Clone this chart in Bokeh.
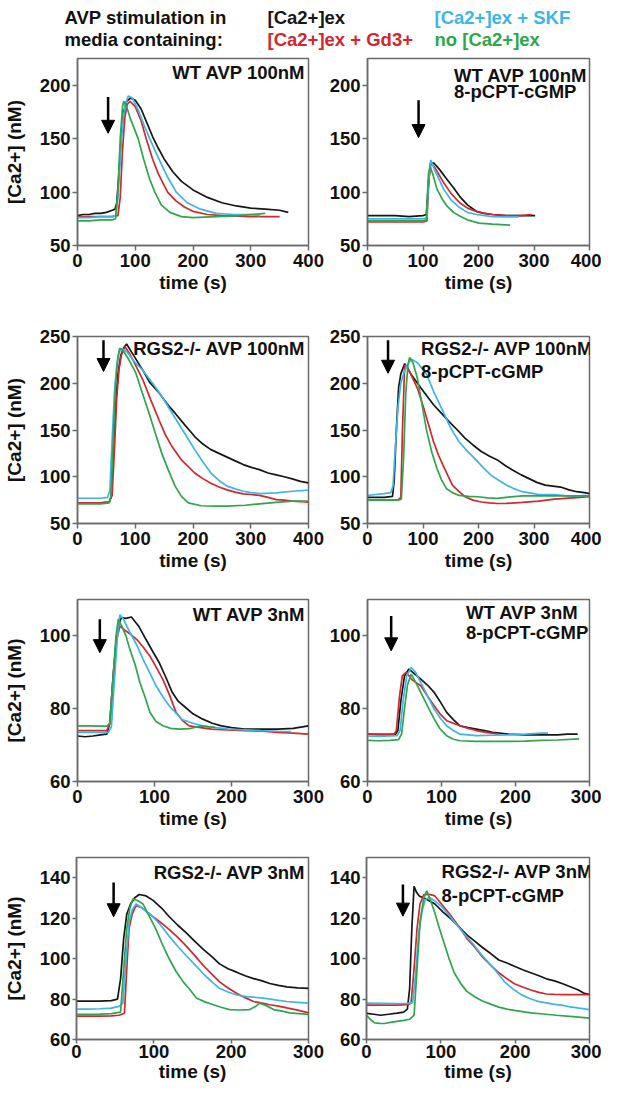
from bokeh.plotting import figure
from bokeh.models import Range1d, FixedTicker, Label, Arrow, NormalHead, ColumnDataSource
from bokeh.layouts import column, row
from bokeh.embed import file_html
from bokeh.resources import INLINE
from bokeh.core.properties import value

FONT = "Liberation Sans"

# ---------------- legend / header ----------------
legend_names = ["[Ca2+]ex", "[Ca2+]ex + SKF", "[Ca2+]ex + Gd3+", "no [Ca2+]ex"]
legend_colors = ["#161616", "#3cb6e6", "#d3262e", "#2ea64c"]
header_lines = ["AVP stimulation in", "media containing:"]

series_keys = ["ex", "gd", "skf", "no"]
series_colors = {"ex": "#161616", "gd": "#d3262e", "skf": "#3cb6e6", "no": "#2ea64c"}

# ---------------- panel 1: WT AVP 100nM ----------------
wt100_ex_t = [0, 10, 20, 30, 40, 50, 60, 65, 68, 72, 76, 80, 85, 92, 100, 110, 120, 130, 140, 150, 165, 180, 200, 225, 250, 275, 300, 325, 350, 365]
wt100_ex_v = [78, 79, 79, 80, 80, 81, 83, 84, 90, 120, 155, 175, 185, 188, 186, 178, 165, 152, 141, 131, 119, 110, 102, 95, 90, 87, 85, 84, 83, 81]
wt100_gd_t = [0, 20, 40, 60, 70, 74, 78, 82, 86, 91, 100, 110, 119, 130, 140, 156, 170, 185, 200, 225, 250, 300, 350]
wt100_gd_v = [77, 77, 77, 77, 78, 95, 140, 170, 182, 185, 180, 167, 150, 131, 117, 100, 92, 86, 82, 79, 78, 77, 77]
wt100_skf_t = [0, 20, 40, 60, 66, 70, 74, 78, 83, 88, 95, 105, 115, 125, 140, 155, 171, 190, 213, 240, 270, 300, 316]
wt100_skf_v = [76, 76, 77, 77, 78, 95, 130, 165, 182, 190, 188, 177, 163, 150, 132, 115, 100, 90, 84, 80, 79, 79, 78]
wt100_no_t = [0, 20, 40, 60, 66, 70, 74, 78, 80, 85, 92, 100, 105, 115, 125, 134, 145, 160, 180, 200, 240, 280, 325]
wt100_no_v = [73, 73, 74, 74, 75, 100, 150, 180, 185, 180, 168, 157, 150, 130, 112, 100, 88, 81, 77, 76, 77, 78, 80]

# ---------------- panel 2: WT AVP 100nM 8-pCPT-cGMP ----------------
wt100c_ex_t = [0, 25, 50, 75, 100, 106, 110, 114, 120, 130, 143, 155, 166, 180, 196, 210, 225, 250, 275, 302]
wt100c_ex_v = [78, 78, 78, 77, 78, 79, 110, 127, 127, 121, 112, 104, 96, 88, 82, 80, 79, 78, 78, 78]
wt100c_gd_t = [0, 25, 50, 75, 100, 107, 110, 113, 120, 137, 150, 166, 180, 201, 225, 250, 275, 296]
wt100c_gd_v = [72, 72, 72, 72, 72, 73, 105, 127, 124, 109, 99, 90, 85, 81, 79, 78, 78, 79]
wt100c_skf_t = [0, 25, 50, 75, 100, 107, 110, 114, 120, 137, 150, 166, 180, 196, 225, 250, 272]
wt100c_skf_v = [75, 75, 75, 75, 75, 76, 110, 130, 122, 103, 93, 85.5, 81, 79, 77, 76.7, 76.7]
wt100c_no_t = [0, 25, 50, 75, 100, 106, 110, 113, 118, 125, 134, 143, 155, 166, 180, 201, 225, 257]
wt100c_no_v = [73, 73, 73, 73, 73, 74, 118, 124, 116, 103, 94, 87, 81, 77.6, 74, 71, 70, 69]

# ---------------- panel 3: RGS2-/- AVP 100nM ----------------
rgs100_ex_t = [0, 20, 40, 55, 58, 62, 66, 70, 75, 80, 85, 95, 113, 125, 141, 155, 169, 185, 203, 217, 231, 245, 259, 273, 287, 301, 315, 330, 344, 358, 372, 386, 400]
rgs100_ex_v = [72, 72, 72, 73, 78, 120, 175, 210, 230, 238, 242, 232, 214, 201, 190, 178, 168, 156, 143, 135, 129, 125, 121, 117, 113, 110, 107.6, 104, 102, 100, 97.7, 95, 93.4]
rgs100_gd_t = [0, 20, 40, 55, 60, 64, 68, 72, 76, 82, 90, 100, 113, 127, 141, 152, 163, 180, 203, 217, 231, 245, 259, 273, 287, 301, 315, 330, 344, 358, 372, 386, 400]
rgs100_gd_v = [72, 72, 72, 73, 80, 130, 185, 215, 230, 239, 232, 220, 204, 182, 161, 145, 133, 118, 104, 98, 93, 89, 86, 83.5, 81.7, 81, 80, 78, 75.6, 75, 74, 73.5, 72.8]
rgs100_skf_t = [0, 20, 40, 52, 56, 60, 64, 68, 72, 76, 85, 100, 113, 130, 146, 160, 175, 190, 203, 217, 231, 245, 259, 273, 287, 301, 315, 344, 372, 400]
rgs100_skf_v = [77, 77, 77, 78, 85, 140, 190, 220, 233, 237, 234, 222, 214, 200, 186, 172, 157, 142, 129, 116, 104, 96, 90, 87, 84.5, 83, 82, 82.7, 84.5, 85.6]
rgs100_no_t = [0, 20, 40, 55, 58, 62, 66, 70, 73, 80, 90, 101, 112, 124, 135, 146, 158, 169, 180, 192, 214, 240, 259, 290, 315, 344, 372, 400]
rgs100_no_v = [71, 71, 71, 72, 80, 140, 200, 228, 237.5, 234, 224, 211, 190, 168, 146, 125, 106, 90, 79, 72, 69, 68.5, 68.5, 69.5, 71, 72.5, 74, 74]

# ---------------- panel 4: RGS2-/- AVP 100nM 8-pCPT-cGMP ----------------
rgs100c_ex_t = [0, 15, 30, 45, 48, 52, 56, 60, 67, 78, 90, 105, 119, 133, 147, 162, 176, 190, 205, 220, 234, 248, 262, 277, 291, 305, 320, 334, 348, 363, 377, 391, 400]
rgs100c_ex_v = [78, 78, 78, 79, 95, 150, 195, 210, 221, 210, 200, 188, 177, 168, 159, 150, 141, 134, 127, 122, 118, 112, 107, 102, 98, 94, 91, 90, 89, 86, 84, 83, 82]
rgs100c_gd_t = [0, 20, 40, 55, 60, 63, 67, 72, 80, 90, 100, 110, 119, 128, 136, 145, 153, 165, 176, 190, 205, 220, 234, 250, 279, 308, 337, 370, 400]
rgs100c_gd_v = [75, 75, 75, 75, 78, 150, 219.6, 217, 207, 194.6, 176, 156, 137.5, 123, 112.5, 101, 91, 84, 78.6, 75, 73, 72, 71.4, 71.5, 72.5, 74, 76, 77.5, 78.6]
rgs100c_skf_t = [0, 15, 30, 42, 46, 50, 55, 60, 66, 72, 79, 90, 107, 120, 136, 150, 165, 179, 193, 208, 222, 237, 251, 265, 279, 294, 308, 337, 366, 394]
rgs100c_skf_v = [80, 81, 82, 83, 90, 130, 175, 200, 212, 220, 225.7, 222, 209, 190, 170, 152, 137.5, 128, 119.6, 110, 102, 96, 91, 87, 84, 82.5, 81, 81, 79, 80]
rgs100c_no_t = [0, 20, 40, 55, 61, 65, 69, 73, 76, 82, 90, 98, 107, 116, 125, 133, 142, 153, 165, 182, 199, 216, 234, 250, 279, 308, 337, 370, 400]
rgs100c_no_v = [75, 75, 75, 75, 76, 120, 190, 220, 227.5, 222, 205, 178, 148, 126, 109, 97, 87.5, 83, 80, 79, 78.6, 77.5, 76.8, 78, 79.6, 79.6, 79.6, 79.6, 79.6]

# ---------------- panel 5: WT AVP 3nM ----------------
wt3_ex_t = [0, 10, 20, 30, 38, 42, 46, 50, 54, 57, 63, 70, 80, 89, 97, 106, 115, 123, 131, 140, 150, 162, 175, 187, 200, 217, 240, 260, 280, 300]
wt3_ex_v = [72.5, 72.3, 72.5, 72.8, 73, 76, 88, 98, 103.5, 105, 104.8, 105.2, 102.5, 99, 96, 92.7, 88.5, 84.5, 82, 80.4, 78.6, 77.2, 76, 75.3, 74.8, 74.4, 74.4, 74.4, 74.6, 75.3]
wt3_gd_t = [0, 15, 30, 38, 42, 46, 50, 55, 62, 70, 77, 85, 94, 102, 111, 119, 128, 136, 145, 160, 174, 195, 217, 240, 260, 280, 300]
wt3_gd_v = [74, 74, 74, 74, 76, 88, 98, 102.7, 101.5, 100.3, 99, 97, 94.5, 91.5, 88, 84, 79, 76.8, 75.3, 74.8, 74.4, 74.2, 74, 73.8, 73.5, 73.3, 73]
wt3_skf_t = [0, 15, 30, 40, 44, 48, 52, 55, 60, 68, 77, 85, 94, 102, 111, 119, 128, 136, 150, 162, 180, 196, 217, 238, 260, 277]
wt3_skf_v = [73.5, 73.5, 73.5, 73.5, 75, 88, 100, 105.8, 104.5, 101, 97.5, 93.6, 89.8, 86.3, 83.2, 80.8, 78.8, 77, 76, 75.3, 74.8, 74.4, 74.2, 74, 73.8, 73.7]
wt3_no_t = [0, 15, 30, 38, 42, 46, 50, 53, 58, 63, 68, 75, 81, 88, 94, 102, 111, 121, 132, 145, 155, 162, 170, 179]
wt3_no_v = [75.3, 75.3, 75.2, 75.2, 76, 88, 100, 104.6, 102.5, 100, 96.3, 92, 87.2, 83, 79, 76.5, 75.3, 74.6, 74.4, 74.5, 75, 75.3, 75, 74.9]

# ---------------- panel 6: WT AVP 3nM 8-pCPT-cGMP ----------------
wt3c_ex_t = [0, 15, 30, 38, 41, 45, 50, 56, 64, 72, 81, 90, 98, 107, 116, 125, 136, 147, 158, 169, 190, 213, 235, 257, 270, 284]
wt3c_ex_v = [73, 72.9, 72.9, 73, 74, 82, 89, 90.9, 89.5, 88.1, 86.5, 84.5, 82, 79, 77, 75.3, 74.8, 74.4, 74, 73.5, 73, 72.8, 72.8, 72.8, 73, 73]
wt3c_gd_t = [0, 15, 30, 36, 39, 43, 47, 52, 60, 72, 81, 90, 98, 107, 116, 125, 136, 147, 160, 178]
wt3c_gd_v = [73, 73, 73, 73, 74, 83, 89, 90, 88, 86.3, 83.5, 80.8, 78.6, 76.7, 76, 75.3, 74.6, 74, 73.5, 73]
wt3c_skf_t = [0, 15, 30, 40, 44, 48, 53, 59, 65, 72, 81, 90, 98, 107, 116, 125, 136, 147, 169, 191, 213, 235, 244]
wt3c_skf_v = [72.5, 72.4, 72.5, 72.6, 74, 82, 89, 91.3, 90, 87.2, 83.5, 79.9, 77.5, 75.3, 74, 73, 72.8, 72.6, 72.7, 72.8, 73, 73.3, 73.3]
wt3c_no_t = [0, 15, 30, 42, 46, 50, 54, 59, 65, 72, 81, 90, 98, 107, 116, 125, 147, 169, 191, 213, 235, 257, 286]
wt3c_no_v = [71.3, 71.2, 71.3, 71.5, 73, 80, 86.5, 89.5, 87.3, 84.5, 80.8, 77.2, 74.5, 72.6, 71.6, 71.2, 71, 71, 71, 71.1, 71.3, 71.4, 71.7]

# ---------------- panel 7: RGS2-/- AVP 3nM ----------------
rgs3_ex_t = [0, 15, 30, 45, 53, 57, 61, 65, 70, 75, 81, 90, 99, 110, 120, 131, 142, 153, 164, 175, 185, 196, 207, 218, 229, 240, 250, 261, 272, 286, 300]
rgs3_ex_v = [79, 79, 79, 79.2, 80, 90, 110, 122, 127, 130, 131.7, 131, 128.8, 125, 120.7, 116.5, 112.7, 108.5, 104.6, 101, 97.4, 95, 93.3, 91.5, 90.1, 89, 87.7, 86.8, 86, 85.5, 85.3]
rgs3_gd_t = [0, 15, 30, 45, 55, 62, 65, 68, 72, 77, 85, 99, 110, 120, 131, 142, 153, 164, 175, 185, 196, 207, 218, 229, 240, 250, 261, 272, 286, 300]
rgs3_gd_v = [71.6, 71.6, 71.6, 71.7, 72, 73, 95, 115, 122, 126.3, 125, 120.7, 117.5, 114.3, 110.5, 106.2, 101.5, 96.6, 92.3, 88.5, 85.5, 82.9, 80.7, 78.8, 78, 77.2, 76.5, 75.6, 74.5, 73.2]
rgs3_skf_t = [0, 15, 30, 45, 55, 60, 64, 68, 72, 77, 85, 99, 110, 120, 131, 142, 153, 164, 175, 185, 196, 207, 220, 242, 257, 272, 286, 300]
rgs3_skf_v = [75, 75, 75.2, 75.5, 76.4, 78, 100, 118, 124, 127, 125, 120.7, 116, 111, 106, 101.4, 97, 92.5, 88.5, 85.3, 83.5, 82, 81.2, 80.5, 79.6, 78.8, 78.4, 78]
rgs3_no_t = [0, 15, 30, 45, 57, 61, 65, 69, 73, 80, 86, 94, 103, 111, 120, 129, 138, 146, 155, 166, 177, 188, 198, 211, 224, 232, 237, 244, 255, 266, 276, 288, 300]
rgs3_no_v = [72.4, 72.4, 72.5, 72.8, 73.5, 95, 115, 125, 129.6, 128.5, 127, 121, 114.3, 107, 99.8, 93.5, 88.5, 85, 80.5, 78.6, 77.2, 75.8, 74.8, 74.6, 74.8, 76.5, 78, 77, 74.8, 74, 73.2, 72.8, 72.4]

# ---------------- panel 8: RGS2-/- AVP 3nM 8-pCPT-cGMP ----------------
rgs3c_ex_t = [0, 10, 19, 30, 41, 50, 55, 58, 61, 64, 67, 71, 80, 92, 103, 114, 125, 135, 146, 156, 167, 178, 189, 199, 210, 221, 232, 242, 253, 264, 275, 285, 292, 300]
rgs3c_ex_v = [72.9, 72.5, 72, 72.5, 73, 73.5, 75, 85, 115, 135.8, 133, 131, 129.5, 127, 123, 119.5, 115.5, 111.7, 108.5, 105.5, 102.5, 99.3, 97.8, 96.2, 94.5, 93, 91.5, 90, 89, 87.6, 86, 84.5, 83, 82.2]
rgs3c_gd_t = [0, 20, 40, 55, 60, 64, 68, 72, 77, 84, 92, 103, 114, 125, 135, 146, 156, 167, 178, 189, 199, 210, 221, 232, 242, 253, 264, 282, 300]
rgs3c_gd_v = [77, 77, 77, 77.2, 78, 95, 115, 127, 131.6, 131.8, 131, 126, 121, 115.5, 110, 105.5, 100.8, 96.8, 93, 90, 87.6, 86, 84.5, 83.3, 82.5, 82.3, 82.2, 82.2, 82.2]
rgs3c_skf_t = [0, 20, 40, 55, 62, 66, 70, 75, 79, 84, 92, 101, 112, 122, 133, 144, 154, 165, 176, 186, 197, 208, 218, 229, 240, 251, 262, 272, 286, 300]
rgs3c_skf_v = [78, 77.9, 77.8, 77.9, 78.2, 92, 112, 124, 129, 130.3, 128.5, 125.7, 121, 116.4, 111.7, 107, 102.3, 97.7, 93, 88.4, 85, 82.2, 80.5, 79, 78.2, 77.5, 77, 76.3, 75.5, 74.8]
rgs3c_no_t = [0, 5, 11, 18, 24, 32, 41, 50, 58, 64, 68, 72, 77, 81, 86, 92, 98, 105, 111, 118, 127, 135, 146, 156, 167, 178, 189, 199, 210, 221, 238, 255, 278, 300]
rgs3c_no_v = [72, 70, 68.2, 68, 67.9, 68.5, 69, 69.5, 70, 72, 95, 118, 130, 133.5, 129, 122.6, 115, 107, 100, 93, 87.5, 83.8, 81, 79, 77.5, 76, 75, 74.4, 73.8, 73.2, 72.6, 72, 71.3, 70.6]

# ---------------- panel settings ----------------
panel_keys = ["wt100", "wt100c", "rgs100", "rgs100c", "wt3", "wt3c", "rgs3", "rgs3c"]
panel_titles = {
    "wt100": ["WT AVP 100nM"],
    "wt100c": ["WT AVP 100nM", "8-pCPT-cGMP"],
    "rgs100": ["RGS2-/- AVP 100nM"],
    "rgs100c": ["RGS2-/- AVP 100nM", "8-pCPT-cGMP"],
    "wt3": ["WT AVP 3nM"],
    "wt3c": ["WT AVP 3nM", "8-pCPT-cGMP"],
    "rgs3": ["RGS2-/- AVP 3nM"],
    "rgs3c": ["RGS2-/- AVP 3nM", "8-pCPT-cGMP"],
}
x_max = {"wt100": 400, "wt100c": 400, "rgs100": 400, "rgs100c": 400, "wt3": 300, "wt3c": 300, "rgs3": 300, "rgs3c": 300}
y_lim = {"wt100": (50, 225), "wt100c": (50, 225), "rgs100": (50, 250), "rgs100c": (50, 250),
         "wt3": (60, 110), "wt3c": (60, 110), "rgs3": (60, 150), "rgs3c": (60, 150)}
x_ticks = {400: [0, 100, 200, 300, 400], 300: [0, 100, 200, 300]}
y_ticks = {"wt100": [50, 100, 150, 200], "wt100c": [50, 100, 150, 200],
           "rgs100": [50, 100, 150, 200, 250], "rgs100c": [50, 100, 150, 200, 250],
           "wt3": [60, 80, 100], "wt3c": [60, 80, 100],
           "rgs3": [60, 80, 100, 120, 140], "rgs3c": [60, 80, 100, 120, 140]}
# arrow: time, top value, tip value
arrow_t = {"wt100": 53, "wt100c": 92, "rgs100": 45, "rgs100c": 37, "wt3": 29, "wt3c": 32, "rgs3": 48, "rgs3c": 49}
arrow_top = {"wt100": 189, "wt100c": 186, "rgs100": 246, "rgs100c": 246, "wt3": 104.6, "wt3c": 105.5, "rgs3": 137.6, "rgs3c": 136.6}
arrow_tip = {"wt100": 155, "wt100c": 151, "rgs100": 212.6, "rgs100c": 210.7, "wt3": 95.4, "wt3c": 95.9, "rgs3": 120.7, "rgs3c": 121}
# two-line title left edge (data x) / single-line right aligned
title_left_x = {"wt100c": 156, "rgs100c": 96.5, "wt3c": 133, "rgs3c": 101}
title_off = {"wt100": [-3.5], "wt100c": [-6.5, -22.5], "rgs100": [-1.5], "rgs100c": [-1, -24.5],
             "wt3": [-4.5], "wt3c": [-2.5, -22.5], "rgs3": [-4.5], "rgs3c": [-3.5, -27.5]}

# layout (pixels)
row_heights = [273, 268, 260, 234]
row_top = [8, 13, 8, 6]
row_bottom = [78, 68, 70, 46]
LEFT_W, LEFT_BL, LEFT_BR = 326, 73, 18
RIGHT_W, RIGHT_BL, RIGHT_BR = 275, 39, 12

AX_COL = "#6a6a6a"
TXT = "#111111"
data = globals()


def make_panel(key, left, ri):
    xm = x_max[key]
    y0, y1 = y_lim[key]
    last = ri == 3
    p = figure(width=LEFT_W if left else RIGHT_W, height=row_heights[ri],
               x_range=Range1d(0, xm), y_range=Range1d(y0, y1),
               output_backend="svg", toolbar_location=None,
               min_border_left=LEFT_BL if left else RIGHT_BL,
               min_border_right=LEFT_BR if left else RIGHT_BR,
               min_border_top=row_top[ri], min_border_bottom=row_bottom[ri])
    p.xgrid.visible = False
    p.ygrid.visible = False
    p.outline_line_color = AX_COL
    p.outline_line_width = 1.5
    p.outline_line_alpha = 1.0
    p.xaxis.ticker = FixedTicker(ticks=x_ticks[xm])
    p.yaxis.ticker = FixedTicker(ticks=y_ticks[key])
    for ax in (p.xaxis[0], p.yaxis[0]):
        ax.axis_line_color = AX_COL
        ax.axis_line_width = 1.5
        ax.major_tick_line_color = AX_COL
        ax.major_tick_line_width = 1.5
        ax.major_tick_out = 4 if last else 5
        ax.major_tick_in = 0
        ax.minor_tick_line_color = None
        ax.major_label_text_font = FONT
        ax.major_label_text_font_style = "bold"
        ax.major_label_text_font_size = "18.5px"
        ax.major_label_text_color = TXT
        ax.axis_label_text_font = FONT
        ax.axis_label_text_font_style = "bold"
        ax.axis_label_text_font_size = "19px"
        ax.axis_label_text_color = TXT
    p.xaxis.major_label_standoff = 1 if last else 3
    p.yaxis.major_label_standoff = 2
    p.xaxis.axis_label = "time (s)"
    p.xaxis.axis_label_standoff = 0 if last else 2
    if left:
        p.yaxis.axis_label = "[Ca2+] (nM)"
        p.yaxis.axis_label_standoff = 12

    for s in series_keys:
        p.line(data[f"{key}_{s}_t"], data[f"{key}_{s}_v"], line_color=series_colors[s], line_width=1.7)

    p.add_layout(Arrow(end=NormalHead(size=13, fill_color="black", line_color="black", line_width=1),
                       x_start=arrow_t[key], y_start=arrow_top[key],
                       x_end=arrow_t[key], y_end=arrow_tip[key],
                       line_color="black", line_width=2.5))

    lines = panel_titles[key]
    for i, txt in enumerate(lines):
        if len(lines) == 1:
            lab = Label(x=xm, y=y1, x_offset=-3, y_offset=title_off[key][i], text=txt,
                        text_align="right", text_baseline="top")
        else:
            lab = Label(x=title_left_x[key], y=y1, x_offset=0, y_offset=title_off[key][i], text=txt,
                        text_align="left", text_baseline="top")
        lab.text_font = FONT
        lab.text_font_style = "bold"
        lab.text_font_size = "18.5px"
        lab.text_color = TXT
        p.add_layout(lab)
    return p


# header figure with the legend
hdr = figure(width=601, height=50, x_range=Range1d(0, 601), y_range=Range1d(50, 0),
             output_backend="svg", toolbar_location=None, x_axis_type=None, y_axis_type=None,
             min_border_left=0, min_border_right=0, min_border_top=0, min_border_bottom=0)
hdr.outline_line_color = None
hdr.xgrid.visible = False
hdr.ygrid.visible = False
hdr_cols_x = [64, 267, 434]
hdr_rows_y = [17, 39]
src = ColumnDataSource(dict(
    x=[hdr_cols_x[0], hdr_cols_x[0]] + [hdr_cols_x[1], hdr_cols_x[2], hdr_cols_x[1], hdr_cols_x[2]],
    y=[hdr_rows_y[0], hdr_rows_y[1]] + [hdr_rows_y[0], hdr_rows_y[0], hdr_rows_y[1], hdr_rows_y[1]],
    text=header_lines + legend_names,
    color=[TXT, TXT] + legend_colors,
))
hdr.text(x="x", y="y", text="text", text_color="color", source=src,
         text_font=value(FONT), text_font_style="bold", text_font_size="18.5px",
         text_baseline="middle", text_align="left")

rows = []
for ri in range(4):
    a = make_panel(panel_keys[2 * ri], True, ri)
    b = make_panel(panel_keys[2 * ri + 1], False, ri)
    rows.append(row(a, b))

layout = column(hdr, *rows)
open("out.html", "w").write(file_html(layout, INLINE))
